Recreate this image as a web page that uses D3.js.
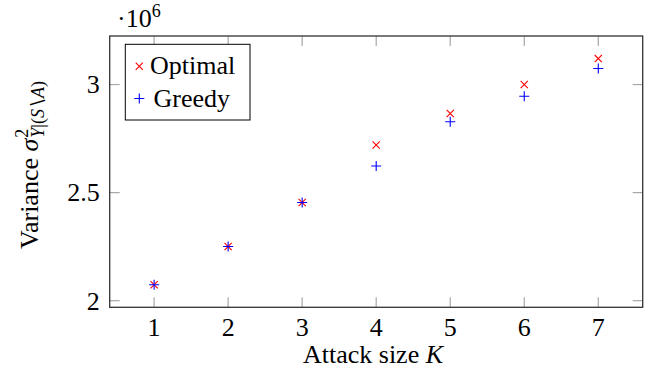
<!DOCTYPE html>
<html>
<head>
<meta charset="utf-8">
<script src="https://cdn.jsdelivr.net/npm/d3@7"></script>
<style>
  body { margin: 0; background: #fff; }
  text { font-family: "Liberation Serif", "DejaVu Serif", serif; fill: #000; }
</style>
</head>
<body>
<div id="chart"></div>
<script>
// data (values in units of 10^6)
const attackSizes = [1, 2, 3, 4, 5, 6, 7];
const optimalVar = [2.074, 2.251, 2.454, 2.720, 2.866, 3.000, 3.120];
const greedyVar = [2.074, 2.251, 2.454, 2.623, 2.828, 2.946, 3.074];
const yTicks = [2, 2.5, 3];
const xTicks = [1, 2, 3, 4, 5, 6, 7];

const width = 651, height = 379;
const margin = { top: 36, right: 8.3, bottom: 71.7, left: 109.7 };
const fs = 26;

const svg = d3.select("#chart")
    .append("svg")
    .attr("width", width)
    .attr("height", height);

const x = d3.scaleLinear()
    .domain([0.4, 7.6])
    .range([margin.left, width - margin.right]);

const yMin = d3.min(optimalVar.concat(greedyVar));
const yMax = d3.max(optimalVar.concat(greedyVar));
const pad = (yMax - yMin) * 0.1;
const y = d3.scaleLinear()
    .domain([yMin - pad, yMax + pad])
    .range([height - margin.bottom, margin.top]);

const tickLen = 10;
const tickColor = "#a8a8a8";

// ticks on all four sides, pointing inward
xTicks.forEach(t => {
    svg.append("line")
        .attr("x1", x(t)).attr("x2", x(t))
        .attr("y1", y.range()[0]).attr("y2", y.range()[0] - tickLen)
        .attr("stroke", tickColor).attr("stroke-width", 1.2);
    svg.append("line")
        .attr("x1", x(t)).attr("x2", x(t))
        .attr("y1", y.range()[1]).attr("y2", y.range()[1] + tickLen)
        .attr("stroke", tickColor).attr("stroke-width", 1.2);
    svg.append("text")
        .attr("x", x(t))
        .attr("y", 335.5)
        .attr("text-anchor", "middle")
        .style("font-size", fs + "px")
        .text(t);
});

yTicks.forEach(t => {
    svg.append("line")
        .attr("x1", x.range()[0]).attr("x2", x.range()[0] + tickLen)
        .attr("y1", y(t)).attr("y2", y(t))
        .attr("stroke", tickColor).attr("stroke-width", 1.2);
    svg.append("line")
        .attr("x1", x.range()[1]).attr("x2", x.range()[1] - tickLen)
        .attr("y1", y(t)).attr("y2", y(t))
        .attr("stroke", tickColor).attr("stroke-width", 1.2);
    svg.append("text")
        .attr("x", x.range()[0] - 10)
        .attr("y", y(t))
        .attr("dy", "0.34em")
        .attr("text-anchor", "end")
        .style("font-size", fs + "px")
        .text(t);
});

// frame
svg.append("rect")
    .attr("x", x.range()[0])
    .attr("y", y.range()[1])
    .attr("width", x.range()[1] - x.range()[0])
    .attr("height", y.range()[0] - y.range()[1])
    .attr("fill", "none")
    .attr("stroke", "#333")
    .attr("stroke-width", 1.3);

// markers
function drawCross(g, cx, cy, s, color) {
    g.append("path")
        .attr("d", `M${cx - s},${cy - s}L${cx + s},${cy + s}M${cx - s},${cy + s}L${cx + s},${cy - s}`)
        .attr("stroke", color).attr("stroke-width", 1.1).attr("fill", "none");
}
function drawPlus(g, cx, cy, s, color) {
    g.append("path")
        .attr("d", `M${cx - s},${cy}L${cx + s},${cy}M${cx},${cy - s}L${cx},${cy + s}`)
        .attr("stroke", color).attr("stroke-width", 1.1).attr("fill", "none");
}

const marks = svg.append("g");
attackSizes.forEach((k, i) => {
    drawCross(marks, x(k), y(optimalVar[i]), 3.6, "#ff0000");
});
attackSizes.forEach((k, i) => {
    drawPlus(marks, x(k), y(greedyVar[i]), 5, "#0000ff");
});

// legend
const legend = svg.append("g");
legend.append("rect")
    .attr("x", 125.3).attr("y", 44.3)
    .attr("width", 124.7).attr("height", 75.7)
    .attr("fill", "#fff")
    .attr("stroke", "#000")
    .attr("stroke-width", 1);
drawCross(legend, 139.3, 66.3, 3.6, "#ff0000");
legend.append("text")
    .attr("x", 150).attr("y", 74)
    .style("font-size", fs + "px")
    .text("Optimal");
drawPlus(legend, 139.3, 98.5, 5, "#0000ff");
legend.append("text")
    .attr("x", 153.5).attr("y", 106.5)
    .style("font-size", fs + "px")
    .text("Greedy");

// scale factor
const sc = svg.append("text")
    .attr("x", 117)
    .attr("y", 27)
    .style("font-size", fs + "px");
sc.append("tspan").text("·10");
sc.append("tspan").attr("dy", -10).style("font-size", "18px").text("6");

// x label
const xl = svg.append("text")
    .attr("x", 373)
    .attr("y", 363)
    .attr("text-anchor", "middle")
    .style("font-size", fs + "px");
xl.append("tspan").text("Attack size ");
xl.append("tspan").style("font-style", "italic").text("K");

// y label: main part, then super/subscript placed after measuring
const yg = svg.append("g").attr("transform", "translate(38,165) rotate(-90)");
const ymain = yg.append("text").style("font-size", fs + "px");
ymain.append("tspan").text("Variance ");
ymain.append("tspan").style("font-style", "italic").text("σ");
const mainW = ymain.node().getComputedTextLength();
yg.append("text")
    .attr("x", mainW + 1).attr("y", -10)
    .style("font-size", "18px")
    .text("2");
const ysub = yg.append("text")
    .attr("x", mainW + 1).attr("y", 6)
    .style("font-size", "18px");
ysub.append("tspan").style("font-style", "italic").text("Y");
ysub.append("tspan").text("|(");
ysub.append("tspan").style("font-style", "italic").text("S");
ysub.append("tspan").text("\u2216");
ysub.append("tspan").style("font-style", "italic").text("A");
ysub.append("tspan").text(")");
const totalW = mainW + 1 + ysub.node().getComputedTextLength();
yg.selectAll("text").attr("transform", `translate(${-totalW / 2},0)`);
</script>
</body>
</html>
